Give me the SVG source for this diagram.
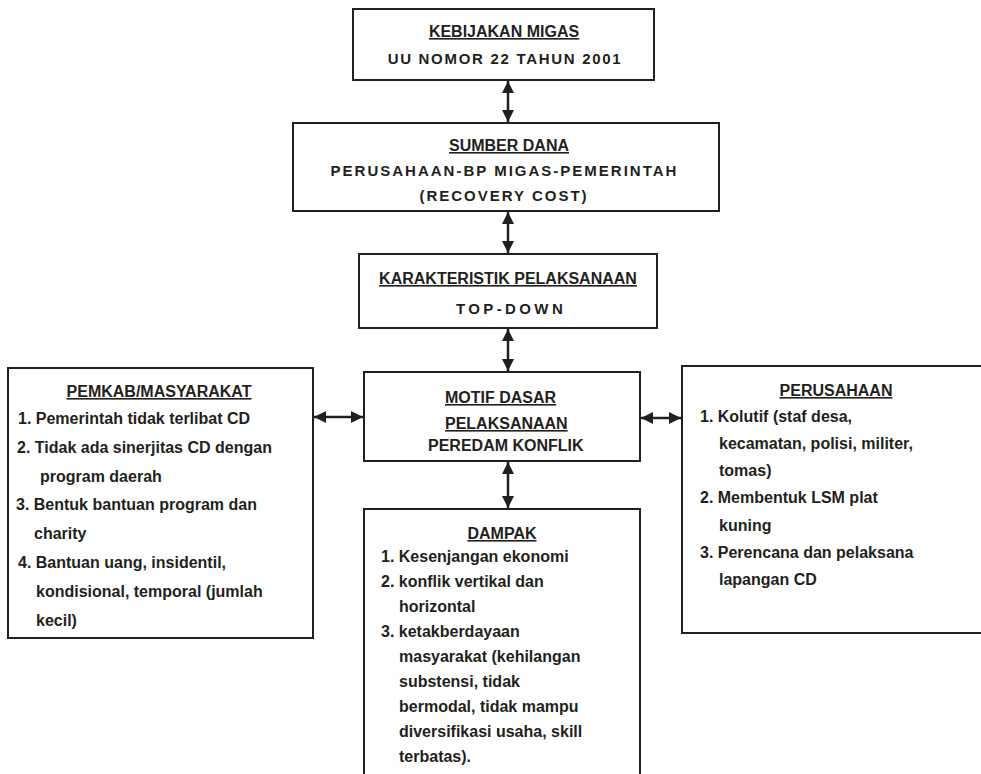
<svg xmlns="http://www.w3.org/2000/svg" width="981" height="774" viewBox="0 0 981 774">
<defs>
<style>
.box{fill:#fff;stroke:#231f20;stroke-width:2}
text{font-family:"Liberation Sans",Arial,sans-serif;font-weight:bold;fill:#231f20;font-size:16px}
.h{text-decoration:underline}
.c{text-anchor:middle}
.con line{stroke:#231f20;stroke-width:2.5;marker-start:url(#ah);marker-end:url(#ah)}
</style>
<marker id="ah" viewBox="0 0 12 12" refX="12" refY="6" markerWidth="12" markerHeight="13" markerUnits="userSpaceOnUse" orient="auto-start-reverse">
<path d="M0,0 L12,6 L0,12 z" fill="#231f20"/>
</marker>
</defs>
<rect width="981" height="774" fill="#fff"/>

<g id="kebijakan">
<rect class="box" x="353" y="9" width="301" height="71"/>
<text class="h c" x="504" y="37">KEBIJAKAN MIGAS</text>
<text class="c" x="505" y="64" style="font-size:15px;letter-spacing:1.7px">UU NOMOR 22 TAHUN 2001</text>
</g>

<g id="sumber">
<rect class="box" x="293" y="123" width="426" height="88"/>
<text class="h c" x="509" y="151">SUMBER DANA</text>
<text class="c" x="504.5" y="176" style="font-size:15px;letter-spacing:2px">PERUSAHAAN-BP MIGAS-PEMERINTAH</text>
<text class="c" x="504" y="201" style="font-size:15px;letter-spacing:2px">(RECOVERY COST)</text>
</g>

<g id="karakteristik">
<rect class="box" x="359" y="254" width="298" height="74"/>
<text class="h c" x="508" y="284">KARAKTERISTIK PELAKSANAAN</text>
<text class="c" x="511" y="314" style="font-size:15px;letter-spacing:3.4px">TOP-DOWN</text>
</g>

<g id="motif">
<rect class="box" x="364" y="372" width="276" height="89"/>
<text class="h" x="445" y="403">MOTIF DASAR</text>
<text class="h" x="445" y="429">PELAKSANAAN</text>
<text x="428" y="451">PEREDAM KONFLIK</text>
</g>

<g id="pemkab">
<rect class="box" x="8" y="368" width="305" height="270"/>
<text class="h c" x="159" y="397">PEMKAB/MASYARAKAT</text>
<text x="18" y="424">1. Pemerintah tidak terlibat CD</text>
<text x="17" y="453">2. Tidak ada sinerjitas CD dengan</text>
<text x="40" y="482">program daerah</text>
<text x="16" y="510">3. Bentuk bantuan program dan</text>
<text x="34" y="539">charity</text>
<text x="18" y="568">4. Bantuan uang, insidentil,</text>
<text x="36" y="597">kondisional, temporal (jumlah</text>
<text x="36" y="626">kecil)</text>
</g>

<g id="perusahaan">
<rect class="box" x="682" y="366" width="310" height="267"/>
<text class="h c" x="836" y="396">PERUSAHAAN</text>
<text x="700" y="422">1. Kolutif (staf desa,</text>
<text x="719" y="449">kecamatan, polisi, militer,</text>
<text x="719" y="476">tomas)</text>
<text x="700" y="503">2. Membentuk LSM plat</text>
<text x="719" y="531">kuning</text>
<text x="700" y="558">3. Perencana dan pelaksana</text>
<text x="719" y="585">lapangan CD</text>
</g>

<g id="dampak">
<rect class="box" x="364" y="509" width="276" height="290"/>
<text class="h c" x="502" y="539">DAMPAK</text>
<text x="381" y="562">1. Kesenjangan ekonomi</text>
<text x="381" y="587">2. konflik vertikal dan</text>
<text x="399" y="612">horizontal</text>
<text x="381" y="637">3. ketakberdayaan</text>
<text x="399" y="662">masyarakat (kehilangan</text>
<text x="399" y="687">substensi, tidak</text>
<text x="399" y="712">bermodal, tidak mampu</text>
<text x="399" y="737">diversifikasi usaha, skill</text>
<text x="399" y="762">terbatas).</text>
</g>

<g id="connectors" class="con">
<line x1="508" y1="81" x2="508" y2="122"/>
<line x1="508" y1="212" x2="508" y2="253"/>
<line x1="508" y1="329" x2="508" y2="371"/>
<line x1="508" y1="462" x2="508" y2="508"/>
<line x1="314" y1="417" x2="363" y2="417"/>
<line x1="641" y1="418" x2="681" y2="418"/>
</g>
</svg>
